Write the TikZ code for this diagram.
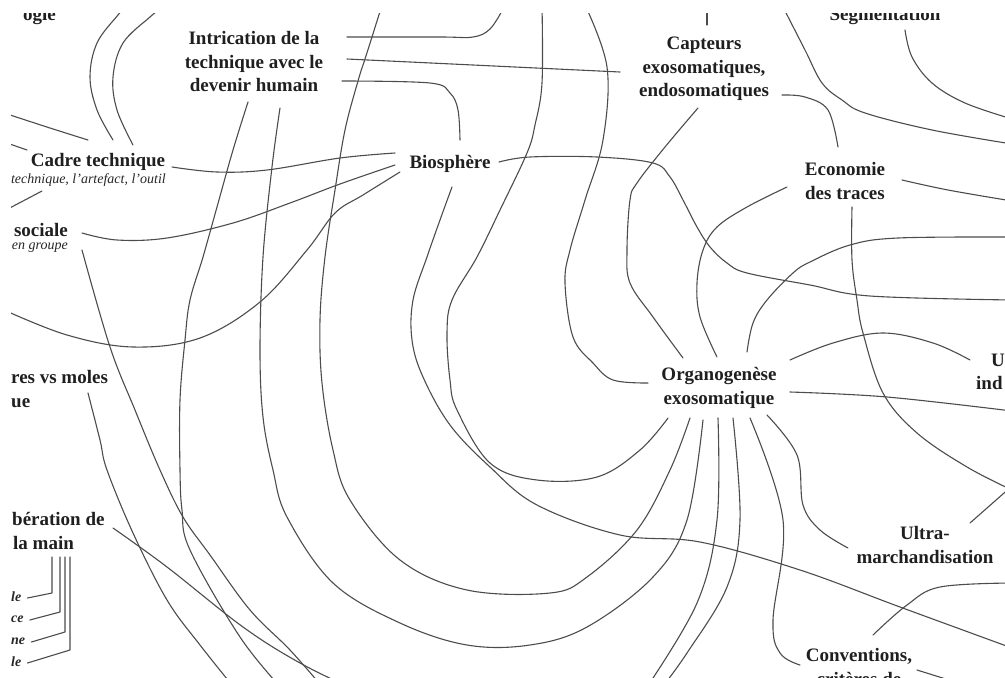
\documentclass[tikz,border=0pt]{standalone}
\usepackage{fontspec}
\setmainfont{Liberation Serif}
\begin{document}
\begin{tikzpicture}[x=1pt,y=-1pt]
\tikzset{
 lbl/.style={inner sep=0pt, align=center, font=\bfseries\fontsize{19}{23.5}\selectfont, text=black!88},
 sub/.style={inner sep=0pt, font=\itshape\fontsize{14}{16}\selectfont, text=black!85},
 itm/.style={inner sep=0pt, anchor=west, font=\bfseries\itshape\fontsize{14}{16}\selectfont, text=black!85},
 link/.style={draw=black!70, line width=1.1pt, line cap=round, line join=round},
 sm/.style={smooth, tension=0.6}
}
\useasboundingbox (0,0) rectangle (1005,678);
\clip (11,13) rectangle (1006,679);
% ---------- labels
\node[lbl, anchor=base east] (ogie) at (56,20) {ogie};
\node[lbl] (intr) at (254,62) {Intrication de la\\technique avec le\\devenir humain};
\node[lbl] (capt) at (704,69) {Capteurs\\exosomatiques,\\endosomatiques};
\node[lbl] (seg) at (885,16) {Segmentation};
\node[lbl] (cadre) at (98,162) {Cadre technique};
\node[sub, anchor=east] (csub) at (166,180) {technique, l’artefact, l’outil};
\node[lbl] (soc) at (41,230) {sociale};
\node[sub, anchor=east] (ssub) at (68,248) {en groupe};
\node[lbl] (bio) at (450,164) {Biosphère};
\node[lbl] (eco) at (845,181) {Economie\\des traces};
\node[lbl] (org) at (719,388) {Organogenèse\\exosomatique};
\node[lbl, anchor=west] (urb) at (991,360) {U};
\node[lbl, anchor=west] (urb2) at (976,383) {ind};
\node[lbl] (ultra) at (925,545) {Ultra-\\marchandisation};
\node[lbl] (conv) at (859,667) {Conventions,\\critères de};
\node[lbl, anchor=west, align=left] (moles) at (11,389) {res vs moles\\ue};
\node[lbl, anchor=west, align=left] (lib) at (12,531) {bération de\\\hspace*{1pt}la main};
\node[itm] (i1) at (11,597) {le};
\node[itm] (i2) at (11,619) {ce};
\node[itm] (i3) at (11,641) {ne};
\node[itm] (i4) at (11,662) {le};
% ---------- free ends
\coordinate (t1) at (124,9);
\coordinate (t2) at (160,9);
\coordinate (t3) at (503,9);
\coordinate (t4) at (382,5);
\coordinate (t5) at (542,5);
\coordinate (t6) at (585,5);
\coordinate (t7) at (782,5);
\coordinate (t8) at (707,5);
\coordinate (l1) at (4,113);
\coordinate (l2) at (4,142);
\coordinate (l3) at (4,211);
\coordinate (l4) at (4,310);
\coordinate (r1) at (1012,648);
\coordinate (r2) at (1012,237);
\coordinate (r3) at (1012,300);
\coordinate (r4) at (1012,411);
\coordinate (r5) at (1012,490);
\coordinate (r6) at (1012,486);
\coordinate (r7) at (1012,583);
\coordinate (r8) at (1012,201);
\coordinate (r9) at (1012,144);
\coordinate (r10) at (1012,119);
\coordinate (b1) at (283,690);
\coordinate (b2) at (645,690);
\coordinate (b3) at (660,690);
\coordinate (b4) at (965,685);
\coordinate (b5) at (236,690);
\coordinate (b6) at (325,690);
\coordinate (b7) at (355,690);
% ---------- connectors
\draw[link] plot[sm] coordinates {([shift={(15,-22)}]cadre.center) (97,110) (90,77) (97,43) (118,15) (t1)};
\draw[link] plot[sm] coordinates {([shift={(35,-17)}]cadre.center) (117,110) (113,77) (123,43) (150,17) (t2)};
\draw[link] plot[sm] coordinates {(l1) (50,128) ([shift={(-10,-22)}]cadre.center)};
\draw[link] (l2) -- ([shift={(-71,-12)}]cadre.center);
\draw[link] ([shift={(-124,11)}]csub.east) -- (l3);
\draw[link] plot[sm] coordinates {([shift={(74,5)}]cadre.center) (217,172) (267,170) (340,158) ([shift={(-55,-11)}]bio.center)};
\draw[link] plot[sm] coordinates {([shift={(41,3)}]soc.center) (117,240) (167,238) (233,223) (290,203) (340,184) ([shift={(-55,1)}]bio.center)};
\draw[link] plot[sm] coordinates {(l4) (67,335) (133,347) (200,338) (260,302) (307,250) (335,213) (363,195) ([shift={(-50,8)}]bio.center)};
\draw[link] plot[sm] coordinates {([shift={(93,-25)}]intr.center) (440,37) (473,37) (490,29) (t3)};
\draw[link] ([shift={(93,-3)}]intr.center) -- ([shift={(-84,3)}]capt.center);
\draw[link] plot[sm] coordinates {([shift={(88,19)}]intr.center) (430,83) (450,93) (458,110) ([shift={(10,-24)}]bio.center)};
% lines through the left
\draw[link] plot[sm] coordinates {([shift={(-6,40)}]intr.center) (233,150) (217,207) (203,257) (190,300) (185,340) (180,400) (180,470) (182,510) (190,550) (240,637) (b1)};
\draw[link] plot[sm] coordinates {([shift={(26,46)}]intr.center) (272,167) (263,257) (260,350) (263,417) (273,470) (287,517) (333,583) (400,623) (467,645) (530,645) (587,627) (653,577) (687,520) ([shift={(-16,32)}]org.center)};
\draw[link] plot[sm] coordinates {(t4) (372,37) (365,59) (358,81) (345,130) (335,190) (325,257) (320,320) (322,383) (333,450) (350,500) (400,560) (467,590) (550,593) (587,577) (637,530) (670,470) ([shift={(-29,30)}]org.center)};
\draw[link] plot[sm] coordinates {(t5) (542,83) (535,125) (527,153) (500,210) (477,257) (452,300) (447,333) (450,380) (457,410) (490,463) (537,480) (597,477) (640,450) ([shift={(-51,30)}]org.center)};
\draw[link] plot[sm] coordinates {([shift={(2,23)}]bio.center) (440,220) (427,257) (413,300) (412,340) (423,377) (450,425) (490,467) (537,505) (620,535) (700,542) (800,570) (900,607) (r1)};
% organogenese
\draw[link] plot[sm] coordinates {([shift={(-1,30)}]org.center) (717,520) (697,603) (b2)};
\draw[link] plot[sm] coordinates {([shift={(14,30)}]org.center) (740,520) (727,587) (687,653) (b3)};
\draw[link] plot[sm] coordinates {([shift={(31,30)}]org.center) (783,520) (773,620) (780,653) ([shift={(-59,-2)}]conv.center)};
\draw[link] plot[sm] coordinates {([shift={(48,27)}]org.center) (797,455) (803,505) (820,530) ([shift={(-77,3)}]ultra.center)};
\draw[link] plot[sm] coordinates {(t6) (607,67) (603,140) (585,200) (570,250) (565,283) (573,337) (593,363) (613,380) ([shift={(-71,-5)}]org.center)};
\draw[link] plot[sm] coordinates {([shift={(-6,39)}]capt.center) (665,147) (637,183) (630,200) (627,250) (630,283) (653,317) ([shift={(-36,-30)}]org.center)};
\draw[link] plot[sm] coordinates {([shift={(-2,-31)}]org.center) (700,317) (697,283) (703,250) (717,227) (747,207) ([shift={(-58,6)}]eco.center)};
\draw[link] plot[sm] coordinates {([shift={(28,-36)}]org.center) (753,323) (767,300) (793,273) (810,262) (850,245) (898,238) (r2)};
\draw[link] plot[sm] coordinates {([shift={(49,-2)}]bio.center) (530,157) (597,157) (653,163) (670,177) (683,200) (697,227) (710,247) (727,263) (747,273) (810,285) (870,296) (r3)};
\draw[link] plot[sm] coordinates {([shift={(71,-28)}]org.center) (833,343) (883,333) (933,343) ([shift={(-21,0)}]urb.west)};
\draw[link] plot[sm] coordinates {([shift={(71,4)}]org.center) (887,397) (r4)};
% right side
\draw[link] plot[sm] coordinates {([shift={(7,26)}]eco.center) (852,260) (857,300) (863,333) (883,393) (917,433) (967,467) (r5)};
\draw[link] ([shift={(45,-22)}]ultra.center) -- (r6);
\draw[link] plot[sm] coordinates {([shift={(14,-32)}]conv.center) (907,605) (940,587) (r7)};
\draw[link] ([shift={(58,3)}]conv.center) -- (b4);
\draw[link] plot[sm] coordinates {([shift={(78,26)}]capt.center) (805,97) (828,110) ([shift={(-7,-34)}]eco.center)};
\draw[link] plot[sm] coordinates {([shift={(57,-1)}]eco.center) (948,190) (r8)};
\draw[link] plot[sm] coordinates {(t7) (805,50) (822,83) (842,100) (865,113) (932,130) (r9)};
\draw[link] plot[sm] coordinates {([shift={(20,14)}]seg.center) (912,57) (932,83) (965,103) (r10)};
\draw[link] ([shift={(3,-44)}]capt.center) -- (t8);
% bottom left
\draw[link] plot[sm] coordinates {([shift={(77,4)}]moles.west) (100,440) (107,470) (133,533) (167,600) (200,645) (b5)};
\draw[link] plot[sm] coordinates {([shift={(14,2)}]ssub.east) (110,347) (135,410) (160,470) (183,517) (210,555) (250,610) (290,650) (b6)};
\draw[link] plot[sm] coordinates {([shift={(101,-3)}]lib.west) (167,567) (243,627) (300,663) (b7)};
\draw[link] ([shift={(40,26)}]lib.west) -- ++(0,36) -- ([shift={(6,1)}]i1.east);
\draw[link] ([shift={(48,26)}]lib.west) -- ++(0,55) -- ([shift={(6,1)}]i2.east);
\draw[link] ([shift={(53,26)}]lib.west) -- ++(0,75) -- ([shift={(6,1)}]i3.east);
\draw[link] ([shift={(58,26)}]lib.west) -- ++(0,93) -- ([shift={(6,1)}]i4.east);
\end{tikzpicture}
\end{document}
